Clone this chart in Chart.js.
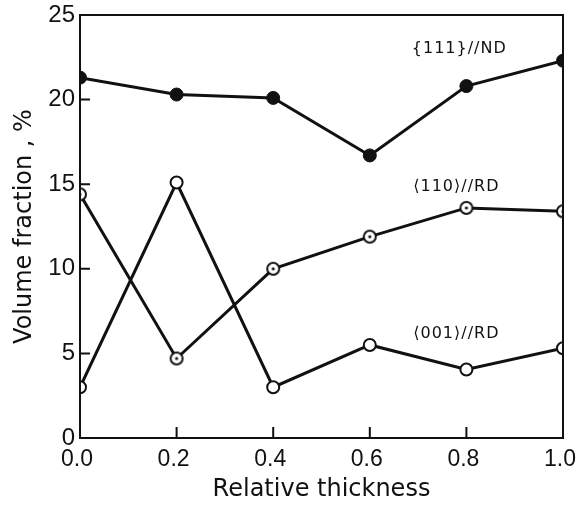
<!DOCTYPE html>
<html lang="en">
<head>
    <meta charset="UTF-8">
    <title>Volume fraction vs relative thickness</title>
    <script src="https://cdn.jsdelivr.net/npm/chart.js@4.4.1/dist/chart.umd.min.js"></script>
    <style>
        html, body { margin: 0; padding: 0; background: #fff; }
        #wrap { width: 576px; height: 508px; position: relative; }
    </style>
</head>
<body>
<div id="wrap">
    <canvas id="myChart" width="576" height="508"></canvas>
</div>

<script>
    // data
    const thickness = [0.0, 0.2, 0.4, 0.6, 0.8, 1.0];
    const nd111 = [21.3, 20.3, 20.1, 16.7, 20.8, 22.3];
    const rd110 = [14.4, 4.7, 10.0, 11.9, 13.6, 13.4];
    const rd001 = [3.0, 15.1, 3.0, 5.5, 4.05, 5.3];
    const seriesLabels = ['{111}//ND', '\u27E8110\u27E9//RD', '\u27E8001\u27E9//RD'];
    const xTicks = [0.2, 0.4, 0.6, 0.8];
    const yTicks = [5, 10, 15, 20];

    const ink = '#111';

    // circle with a dot in the middle
    function dotCircle() {
        const c = document.createElement('canvas');
        c.width = 16; c.height = 16;
        const g = c.getContext('2d');
        g.fillStyle = '#fff';
        g.strokeStyle = ink;
        g.lineWidth = 2;
        g.beginPath(); g.arc(8, 8, 6, 0, Math.PI * 2); g.fill(); g.stroke();
        g.fillStyle = ink;
        g.beginPath(); g.arc(8, 8, 1.6, 0, Math.PI * 2); g.fill();
        return c;
    }

    function pts(arr) {
        return thickness.map((x, i) => ({x: x, y: arr[i]}));
    }

    // box, inward ticks and the curve labels
    const decor = {
        id: 'decor',
        afterDraw(chart) {
            const ctx = chart.ctx;
            const a = chart.chartArea;
            const xs = chart.scales.x, ys = chart.scales.y;
            ctx.save();
            ctx.strokeStyle = ink;
            ctx.lineWidth = 2;
            ctx.strokeRect(a.left, a.top, a.right - a.left, a.bottom - a.top);
            ctx.beginPath();
            yTicks.forEach(v => {
                const y = ys.getPixelForValue(v);
                ctx.moveTo(a.left, y); ctx.lineTo(a.left + 10, y);
            });
            xTicks.forEach(v => {
                const x = xs.getPixelForValue(v);
                ctx.moveTo(x, a.bottom); ctx.lineTo(x, a.bottom - 11);
            });
            ctx.stroke();

            ctx.fillStyle = ink;
            ctx.font = '16px "DejaVu Sans"';
            ctx.letterSpacing = '1px';
            ctx.textBaseline = 'alphabetic';
            const spots = [[0.687, 22.75], [0.69, 14.6], [0.69, 5.9]];
            seriesLabels.forEach((t, i) => {
                ctx.fillText(t, xs.getPixelForValue(spots[i][0]), ys.getPixelForValue(spots[i][1]));
            });
            ctx.restore();
        }
    };

    const ctx = document.getElementById('myChart');
    const myChart = new Chart(ctx, {
        type: 'line',
        data: {
            datasets: [{
                label: seriesLabels[0],
                data: pts(nd111),
                borderColor: ink,
                borderWidth: 3,
                pointStyle: 'circle',
                pointRadius: 6.5,
                pointBackgroundColor: ink,
                pointBorderColor: ink,
                pointBorderWidth: 1
            }, {
                label: seriesLabels[1],
                data: pts(rd110),
                borderColor: ink,
                borderWidth: 3,
                pointStyle: dotCircle(),
                pointRadius: 7
            }, {
                label: seriesLabels[2],
                data: pts(rd001),
                borderColor: ink,
                borderWidth: 3,
                pointStyle: 'circle',
                pointRadius: 6,
                pointBackgroundColor: '#fff',
                pointBorderColor: ink,
                pointBorderWidth: 2
            }]
        },
        options: {
            responsive: false,
            animation: false,
            layout: {padding: {top: 15, right: 13, left: 0, bottom: 0}},
            plugins: {
                legend: {display: false},
                tooltip: {enabled: false}
            },
            scales: {
                x: {
                    type: 'linear',
                    min: 0, max: 1,
                    grid: {display: false, drawTicks: false},
                    border: {display: false},
                    ticks: {
                        stepSize: 0.2,
                        color: ink,
                        padding: 8,
                        labelOffset: -3,
                        maxRotation: 0,
                        font: {family: '"Liberation Sans", Arial', size: 23},
                        callback: v => v.toFixed(1)
                    },
                    title: {
                        display: true,
                        text: 'Relative thickness',
                        color: ink,
                        padding: {top: 0, bottom: 4},
                        font: {family: '"DejaVu Sans"', size: 24}
                    },
                    afterFit: s => {
                        s.height = 70;
                        s.paddingLeft = 0;
                        s.paddingRight = 0;
                    }
                },
                y: {
                    min: 0, max: 25,
                    grid: {display: false, drawTicks: false},
                    border: {display: false},
                    ticks: {
                        stepSize: 5,
                        color: ink,
                        padding: 5,
                        font: {family: '"Liberation Sans", Arial', size: 24}
                    },
                    title: {
                        display: true,
                        text: 'Volume fraction , %',
                        color: ink,
                        padding: {top: 10, bottom: 0},
                        font: {family: '"DejaVu Sans"', size: 24}
                    },
                    afterFit: s => {
                        s.width = 80;
                        s.paddingTop = 0;
                        s.paddingBottom = 0;
                    }
                }
            }
        },
        plugins: [decor]
    });
</script>
</body>
</html>
